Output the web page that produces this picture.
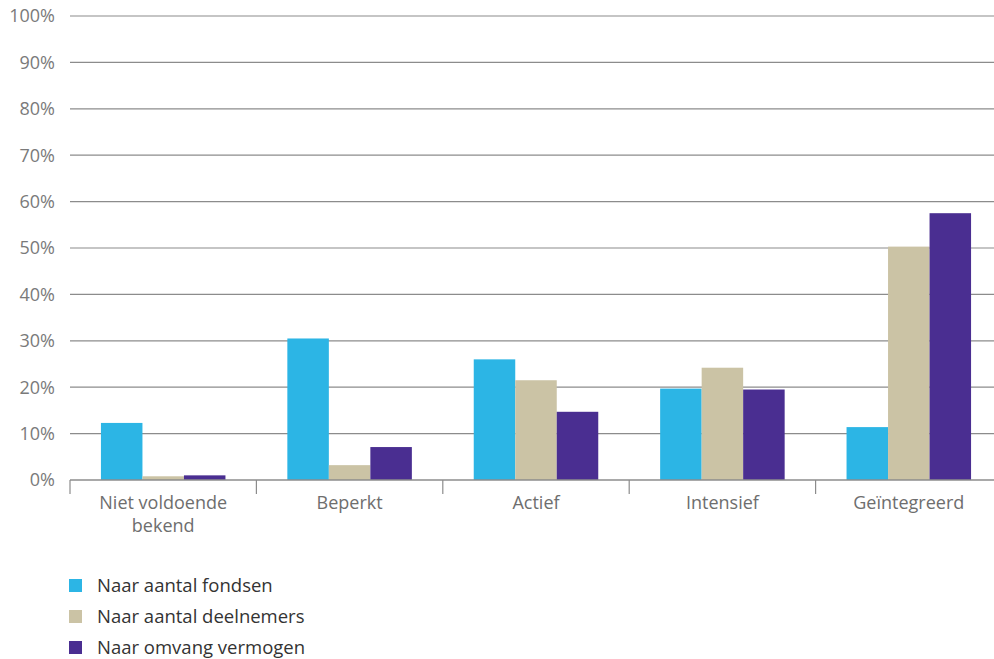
<!DOCTYPE html>
<html>
<head>
<meta charset="utf-8">
<script src="https://cdn.jsdelivr.net/npm/d3@7"></script>
<style>
  body { margin: 0; background: #fff; }
  svg { display: block; font-family: "Open Sans", "DejaVu Sans", sans-serif; }
</style>
</head>
<body>
<div id="chart"></div>
<script>
// Data
const categories = ['Niet voldoende bekend', 'Beperkt', 'Actief', 'Intensief', 'Geïntegreerd'];
const seriesNames = ['Naar aantal fondsen', 'Naar aantal deelnemers', 'Naar omvang vermogen'];
const fondsen = [12.3, 30.5, 26.0, 19.7, 11.4];
const deelnemers = [0.8, 3.2, 21.5, 24.2, 50.3];
const vermogen = [1.0, 7.1, 14.7, 19.5, 57.5];
const yTicks = [0, 10, 20, 30, 40, 50, 60, 70, 80, 90, 100];

const colors = ['#2cb5e5', '#cbc3a5', '#4a2e91'];
const seriesValues = [fondsen, deelnemers, vermogen];

const width = 994;
const height = 659;
const margin = { left: 70, right: -8, top: 16, bottom: 179 };

const svg = d3
  .select('#chart')
  .append('svg')
  .attr('width', width)
  .attr('height', height);

const x0 = d3
  .scaleBand()
  .domain(categories)
  .range([margin.left, width - margin.right])
  .padding(0);

const x1 = d3
  .scaleBand()
  .domain(seriesNames)
  .range([x0.bandwidth() * 0.166, x0.bandwidth() * 0.834])
  .padding(0);

const y = d3
  .scaleLinear()
  .domain([0, 100])
  .range([height - margin.bottom, margin.top]);

// Gridlines
svg
  .append('g')
  .selectAll('line')
  .data(yTicks.filter((d) => d > 0))
  .enter()
  .append('line')
  .attr('x1', margin.left)
  .attr('x2', width)
  .attr('y1', (d) => y(d))
  .attr('y2', (d) => y(d))
  .attr('stroke', '#8c8c8c')
  .attr('stroke-width', 1.2);

// Y labels
svg
  .append('g')
  .selectAll('text')
  .data(yTicks)
  .enter()
  .append('text')
  .attr('x', 55)
  .attr('y', (d) => y(d))
  .attr('dy', '0.35em')
  .attr('text-anchor', 'end')
  .style('font-size', '18px')
  .attr('fill', '#7a7a7a')
  .text((d) => d + '%');

// Bars
const rows = categories.map((c, i) => ({
  category: c,
  values: seriesNames.map((s, j) => ({ name: s, value: seriesValues[j][i], idx: j })),
}));

const group = svg
  .selectAll('.group')
  .data(rows)
  .enter()
  .append('g')
  .attr('class', 'group')
  .attr('transform', (d) => `translate(${x0(d.category)},0)`);

group
  .selectAll('rect')
  .data((d) => d.values)
  .enter()
  .append('rect')
  .attr('x', (d) => x1(d.name))
  .attr('y', (d) => y(d.value))
  .attr('width', x1.bandwidth())
  .attr('height', (d) => y(0) - y(d.value))
  .attr('fill', (d) => colors[d.idx]);

// X axis
const axis = svg.append('g');
axis
  .append('line')
  .attr('x1', margin.left)
  .attr('x2', width)
  .attr('y1', y(0))
  .attr('y2', y(0))
  .attr('stroke', '#8c8c8c')
  .attr('stroke-width', 1.5);

axis
  .selectAll('.tick')
  .data(categories)
  .enter()
  .append('line')
  .attr('x1', (d) => x0(d))
  .attr('x2', (d) => x0(d))
  .attr('y1', y(0))
  .attr('y2', y(0) + 14)
  .attr('stroke', '#8c8c8c')
  .attr('stroke-width', 1.2);

const labelLines = {
  'Niet voldoende bekend': ['Niet voldoende', 'bekend'],
};

axis
  .selectAll('.label')
  .data(categories)
  .enter()
  .append('text')
  .attr('text-anchor', 'middle')
  .style('font-size', '18px')
  .attr('fill', '#6e6e6e')
  .selectAll('tspan')
  .data((d) => (labelLines[d] || [d]).map((t) => ({ t, c: d })))
  .enter()
  .append('tspan')
  .attr('x', (d) => x0(d.c) + x0.bandwidth() / 2)
  .attr('y', (d, i) => y(0) + 29 + i * 23)
  .text((d) => d.t);

// Legend
const legend = svg
  .append('g')
  .selectAll('g')
  .data(seriesNames)
  .enter()
  .append('g')
  .attr('transform', (d, i) => `translate(69, ${586 + i * 31})`);

legend
  .append('rect')
  .attr('x', 0)
  .attr('y', -7)
  .attr('width', 13)
  .attr('height', 13)
  .attr('fill', (d, i) => colors[i]);

legend
  .append('text')
  .attr('x', 28)
  .attr('y', 0)
  .attr('dy', '0.35em')
  .style('font-size', '18.5px')
  .attr('fill', '#333')
  .text((d) => d);
</script>
</body>
</html>
